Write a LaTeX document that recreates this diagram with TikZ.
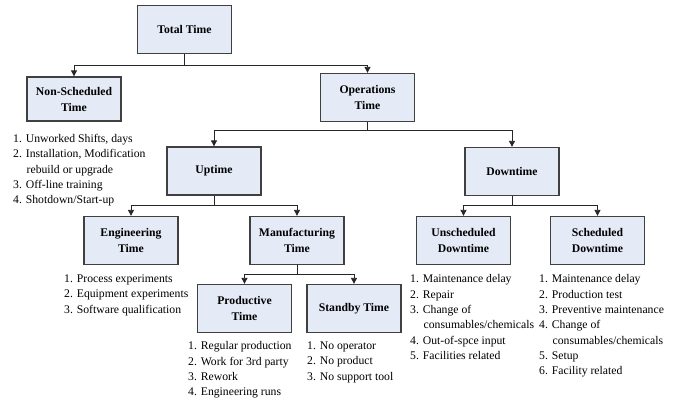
\documentclass[tikz,border=0pt]{standalone}
\usepackage{fontspec}
\setmainfont{Liberation Serif}
\usetikzlibrary{arrows.meta}
\definecolor{boxfill}{RGB}{228,234,246}
\definecolor{boxline}{RGB}{64,64,64}
\newcommand{\tind}{\makebox[13.5pt]{}}
\begin{document}
\begin{tikzpicture}[x=1pt, y=-1pt,
  tbox/.style={draw=boxline, line width=1.3pt, fill=boxfill, minimum width=94pt, minimum height=48pt,
    align=center, inner sep=0pt, font=\fontsize{11.7}{16}\selectfont\bfseries},
  tlist/.style={anchor=north west, align=left, inner sep=0pt, font=\fontsize{11.7}{15.3}\selectfont},
  tarr/.style={draw=black!85, line width=0.9pt, -{Triangle[width=6pt,length=6pt]}}]
\useasboundingbox (0,0) rectangle (678,398);
% boxes
\node[tbox] (tid0) at (184.5,29.5) {Total Time};
\node[tbox, minimum height=44pt] (tid1) at (74,99) {Non-Scheduled\\Time};
\node[tbox] (tid2) at (367.5,97.5) {Operations\\Time};
\node[tbox] (tid3) at (214,171) {Uptime};
\node[tbox] (tid4) at (512,171.5) {Downtime};
\node[tbox] (tid5) at (131,240.5) {Engineering\\Time};
\node[tbox] (tid6) at (297,240.5) {Manufacturing\\Time};
\node[tbox] (tid7) at (244.5,308.5) {Productive\\Time};
\node[tbox] (tid8) at (354,308.5) {Standby Time};
\node[tbox] (tid9) at (463.5,240.5) {Unscheduled\\Downtime};
\node[tbox] (tid10) at (597.5,240.5) {Scheduled\\Downtime};
% connectors
\draw[tarr] (tid0.south) -- ++(0,11) -| (tid1.north);
\draw[tarr] (tid0.south) -- ++(0,11) -| (tid2.north);
\draw[tarr] (tid2.south) -- ++(0,8) -| (tid3.north);
\draw[tarr] (tid2.south) -- ++(0,8) -| (tid4.north);
\draw[tarr] (tid3.south) -- ++(0,10) -| (tid5.north);
\draw[tarr] (tid3.south) -- ++(0,10) -| (tid6.north);
\draw[tarr] (tid6.south) -- ++(0,9) -| (tid7.north);
\draw[tarr] (tid6.south) -- ++(0,9) -| (tid8.north);
\draw[tarr] (tid4.south) -- ++(0,9) -| (tid9.north);
\draw[tarr] (tid4.south) -- ++(0,9) -| (tid10.north);
% lists
\node[tlist] (tid1l) at (13,134) {1. Unworked Shifts, days\\2. Installation, Modification\\\tind rebuild or upgrade\\3. Off-line training\\4. Shotdown/Start-up};
\node[tlist] (tid5l) at (64,274.5) {1. Process experiments\\2. Equipment experiments\\3. Software qualification};
\node[tlist] (tid7l) at (188,341.5) {1. Regular production\\2. Work for 3rd party\\3. Rework\\4. Engineering runs};
\node[tlist] (tid8l) at (307,341.5) {1. No operator\\2. No product\\3. No support tool};
\node[tlist] (tid9l) at (410,274.5) {1. Maintenance delay\\2. Repair\\3. Change of\\\tind consumables/chemicals\\4. Out-of-spce input\\5. Facilities related};
\node[tlist] (tid10l) at (539,274.5) {1. Maintenance delay\\2. Production test\\3. Preventive maintenance\\4. Change of\\\tind consumables/chemicals\\5. Setup\\6. Facility related};
\end{tikzpicture}
\end{document}
